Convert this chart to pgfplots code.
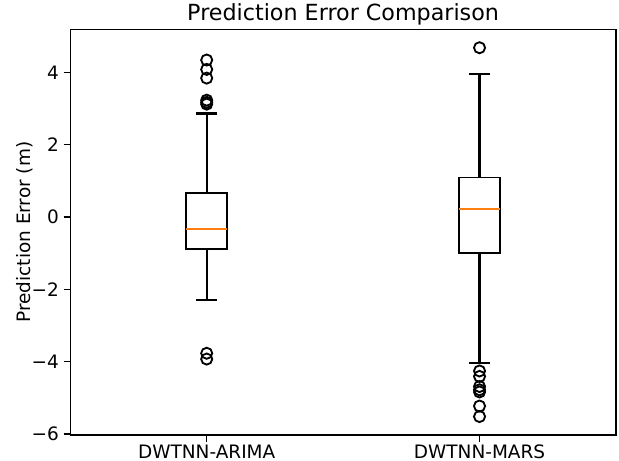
\documentclass[border=0pt]{standalone}
\usepackage{fontspec}
\setmainfont{DejaVu Sans}
\usepackage{pgfplots}
\pgfplotsset{compat=1.18}
\usepgfplotslibrary{statistics}
\definecolor{mplorange}{HTML}{FF7F0E}
\begin{document}
\begin{tikzpicture}
\useasboundingbox (-50.6pt,-18.7pt) rectangle (395.1pt,313.2pt);
\begin{axis}[
  scale only axis,
  width=392.9pt, height=292.1pt,
  xmin=0.5, xmax=2.5,
  ymin=-6.03, ymax=5.19,
  xtick={1,2},
  xticklabels={DWTNN-ARIMA,DWTNN-MARS},
  ytick={-6,-4,-2,0,2,4},
  yticklabels={−6,−4,−2,0,2,4},
  tick align=outside,
  xtick pos=bottom, ytick pos=left,
  major tick length=4.7pt,
  every tick/.style={black, line width=1.07pt},
  axis line style={line width=1.07pt},
  tick label style={font=\fontsize{13.3}{15}\selectfont},
  xticklabel style={anchor=base, yshift=-12pt},
  ylabel={Prediction Error (m)},
  ylabel shift=-7.5pt,
  ylabel style={font=\fontsize{13.3}{15}\selectfont},
  title={Prediction Error Comparison},
  title style={font=\fontsize{16}{19}\selectfont, at={(0.5,1)}, anchor=base, yshift=0.4pt, inner sep=0pt},
  /pgf/number format/assume math mode=true,
  boxplot/draw direction=y,
  boxplot/every median/.style={draw=mplorange, line width=1.33pt},
  boxplot/every box/.style={draw=black, line width=1.33pt},
  boxplot/every whisker/.style={draw=black, solid, line width=1.5pt},
]
\addplot[black, line width=1.33pt, solid, boxplot/draw direction=y, boxplot prepared={
  draw position=1,
  median=-0.34, upper quartile=0.67, lower quartile=-0.89,
  upper whisker=2.86, lower whisker=-2.29,
  box extend=0.15, whisker extend=0.075}] coordinates {};
\addplot[black, line width=1.33pt, solid, boxplot/draw direction=y, boxplot prepared={
  draw position=2,
  median=0.23, upper quartile=1.09, lower quartile=-0.99,
  upper whisker=3.95, lower whisker=-4.05,
  box extend=0.15, whisker extend=0.075}] coordinates {};
\addplot[only marks, mark=o, mark size=4pt, mark options={line width=1.33pt, draw=black}]
  coordinates {(1,4.34) (1,4.08) (1,3.84) (1,3.23) (1,3.17) (1,3.12) (1,-3.77) (1,-3.93)
               (2,4.68) (2,-4.26) (2,-4.41) (2,-4.69) (2,-4.78) (2,-4.84) (2,-5.23) (2,-5.52)};
\end{axis}
\end{tikzpicture}
\end{document}
